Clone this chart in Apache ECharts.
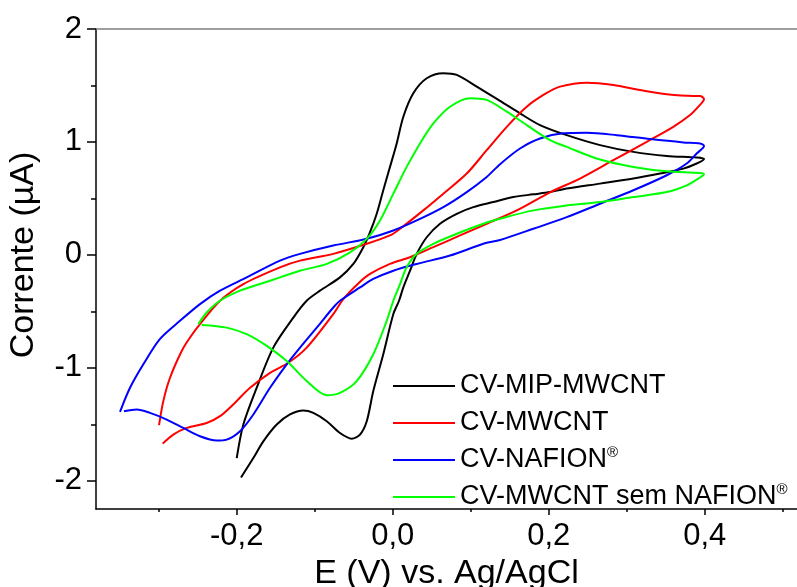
<!DOCTYPE html>
<html>
<head>
<meta charset="utf-8">
<script src="https://cdn.jsdelivr.net/npm/echarts@6/dist/echarts.min.js"></script>
<style>
html,body{margin:0;padding:0;background:#fff;}
#chart{width:797px;height:587px;}
</style>
</head>
<body>
<div id="chart"></div>
<script>
// ---- Data (E in V vs Ag/AgCl, current in µA) ----
const seriesNames = ['CV-MIP-MWCNT', 'CV-MWCNT', 'CV-NAFION®', 'CV-MWCNT sem NAFION®'];
const seriesColors = ['#000000', '#ff0000', '#0000ff', '#00ff00'];

const mipE = [-0.200,-0.1915,-0.1744,-0.1531,-0.1274,-0.1103,-0.0932,-0.0676,-0.0505,-0.0377,-0.0291,-0.0205,-0.0121,-0.0035,0.0051,0.0136,0.0264,0.0436,0.0649,0.0821,0.1077,0.1376,0.1632,0.1888,0.2231,0.2658,0.3085,0.3513,0.3897,0.3991,0.3897,0.3726,0.3427,0.3085,0.2658,0.2231,0.2017,0.1803,0.1546,0.1290,0.1033,0.0821,0.0606,0.0436,0.0308,0.0222,0.0136,0.0081,0.0008,-0.0121,-0.0249,-0.0333,-0.0419,-0.0526,-0.0676,-0.0846,-0.1018,-0.1146,-0.1317,-0.1487,-0.1659,-0.1787,-0.1945];
const mipI = [-1.799,-1.502,-1.177,-0.821,-0.555,-0.406,-0.317,-0.199,-0.080,0.068,0.201,0.364,0.572,0.779,0.987,1.223,1.431,1.564,1.609,1.594,1.490,1.363,1.253,1.149,1.060,0.972,0.912,0.876,0.862,0.850,0.809,0.764,0.720,0.676,0.631,0.587,0.556,0.536,0.512,0.468,0.423,0.364,0.276,0.156,0.009,-0.140,-0.288,-0.406,-0.524,-0.880,-1.206,-1.473,-1.591,-1.627,-1.577,-1.473,-1.399,-1.378,-1.413,-1.502,-1.651,-1.799,-1.971];

const mwcntE = [-0.2996,-0.2941,-0.2855,-0.2705,-0.2599,-0.2471,-0.2214,-0.1915,-0.1445,-0.1188,-0.0762,-0.0333,-0.0035,0.0094,0.0392,0.0649,0.0949,0.1205,0.1462,0.1718,0.1953,0.2145,0.2487,0.2828,0.3171,0.3513,0.3854,0.3940,0.3991,0.3918,0.3812,0.3597,0.3256,0.2828,0.2401,0.2017,0.1590,0.1205,0.0863,0.0521,0.0222,-0.0035,-0.0291,-0.0445,-0.0633,-0.0762,-0.1103,-0.1338,-0.1573,-0.1829,-0.2044,-0.2214,-0.2385,-0.2641,-0.2813,-0.2949];
const mwcntI = [-1.508,-1.295,-1.088,-0.851,-0.732,-0.613,-0.406,-0.258,-0.110,-0.051,0.009,0.098,0.172,0.231,0.394,0.542,0.720,0.927,1.134,1.312,1.425,1.490,1.525,1.505,1.460,1.422,1.407,1.407,1.380,1.312,1.238,1.134,1.001,0.838,0.676,0.554,0.394,0.276,0.172,0.068,-0.021,-0.080,-0.169,-0.255,-0.391,-0.524,-0.821,-0.955,-1.044,-1.177,-1.324,-1.428,-1.488,-1.532,-1.591,-1.671];

const nafionE = [-0.3496,-0.3368,-0.3197,-0.2983,-0.2727,-0.2471,-0.2214,-0.1872,-0.1445,-0.1188,-0.0762,-0.0333,0.0008,0.0308,0.0649,0.0949,0.1205,0.1376,0.1632,0.1888,0.2187,0.2487,0.2872,0.3299,0.3726,0.3940,0.3991,0.3897,0.3769,0.3513,0.3085,0.2658,0.2231,0.1803,0.1376,0.1162,0.0735,0.0308,0.0008,-0.0249,-0.0419,-0.0676,-0.0762,-0.0974,-0.1188,-0.1359,-0.1573,-0.1787,-0.1958,-0.2128,-0.2256,-0.2471,-0.2685,-0.2897,-0.3112,-0.3282,-0.3445];
const nafionI = [-1.390,-1.177,-0.969,-0.744,-0.584,-0.436,-0.317,-0.199,-0.051,0.009,0.083,0.142,0.216,0.305,0.423,0.556,0.690,0.803,0.942,1.031,1.076,1.081,1.060,1.025,0.996,0.987,0.965,0.898,0.809,0.705,0.572,0.453,0.334,0.231,0.132,0.098,-0.006,-0.080,-0.140,-0.213,-0.288,-0.406,-0.466,-0.644,-0.821,-0.969,-1.177,-1.413,-1.562,-1.636,-1.644,-1.606,-1.532,-1.458,-1.399,-1.369,-1.384];

const semE = [-0.2492,-0.2385,-0.2214,-0.1958,-0.1701,-0.1445,-0.1188,-0.0846,-0.0547,-0.0333,-0.0163,0.0008,0.0179,0.0350,0.0521,0.0735,0.0991,0.1205,0.1462,0.1718,0.2017,0.2231,0.2658,0.3085,0.3513,0.3940,0.3991,0.3918,0.3769,0.3513,0.3085,0.2658,0.2231,0.1803,0.1376,0.1162,0.0821,0.0521,0.0308,0.0179,0.0094,0.0008,-0.0077,-0.0249,-0.0462,-0.0676,-0.0846,-0.1103,-0.1359,-0.1615,-0.1872,-0.2128,-0.2449];
const semI = [-0.613,-0.510,-0.406,-0.317,-0.258,-0.199,-0.140,-0.080,0.023,0.142,0.305,0.542,0.779,0.987,1.164,1.312,1.387,1.372,1.268,1.149,1.016,0.956,0.844,0.779,0.740,0.725,0.714,0.676,0.616,0.556,0.512,0.468,0.438,0.394,0.320,0.276,0.187,0.098,0.009,-0.110,-0.258,-0.406,-0.584,-0.880,-1.117,-1.221,-1.242,-1.117,-0.940,-0.806,-0.702,-0.644,-0.620];

const xMajorTicks = [-0.2, 0, 0.2, 0.4];
const xMinorTicks = [-0.3, -0.1, 0.1, 0.3, 0.5];
const yMajorTicks = [-2, -1, 0, 1, 2];
const yMinorTicks = [-1.5, -0.5, 0.5, 1.5];
const xRange = [-0.3804, 0.5183];
const yRange = [-2.25, 2];

// ---- Build ----
const FONT = "'Liberation Sans', Arial, sans-serif";
const allE = [mipE, mwcntE, nafionE, semE];
const allI = [mipI, mwcntI, nafionI, semI];

const series = seriesNames.map((name, k) => ({
  name: name,
  type: 'line',
  xAxisIndex: 0,
  yAxisIndex: 0,
  data: allE[k].map((e, i) => [e, allI[k][i]]),
  showSymbol: false,
  smooth: 0.3,
  lineStyle: { color: seriesColors[k], width: 2 },
  itemStyle: { color: seriesColors[k] },
  animation: false
}));

const chart = echarts.init(document.getElementById('chart'), null, { renderer: 'canvas' });
chart.setOption({
  backgroundColor: '#fff',
  animation: false,
  textStyle: { fontFamily: FONT },
  grid: { left: 96, top: 29, right: 0, bottom: 78, containLabel: false, outerBoundsMode: 'none' },
  xAxis: [
    {
      type: 'value', position: 'bottom', min: xRange[0], max: xRange[1],
      name: 'E (V) vs. Ag/AgCl', nameLocation: 'middle', nameGap: 41,
      nameTextStyle: { fontSize: 34, color: '#000', fontFamily: FONT },
      axisLine: { show: true, onZero: false, lineStyle: { color: '#000', width: 1.5 } },
      axisTick: { show: true, inside: false, length: 6, customValues: xMajorTicks, lineStyle: { color: '#000', width: 1.5 } },
      axisLabel: { show: true, customValues: xMajorTicks, margin: 12, fontSize: 31, color: '#000', fontFamily: FONT,
        formatter: v => (Math.abs(v) < 1e-9 ? 0 : v).toFixed(1).replace('.', ',') },
      splitLine: { show: false }
    },
    {
      type: 'value', position: 'top', min: xRange[0], max: xRange[1],
      axisLine: { show: true, onZero: false, lineStyle: { color: '#808080', width: 1.5 } },
      axisTick: { show: false }, axisLabel: { show: false }, splitLine: { show: false }
    },
    {
      type: 'value', position: 'bottom', min: xRange[0], max: xRange[1],
      axisLine: { show: false, onZero: false },
      axisTick: { show: true, inside: false, length: 3, customValues: xMinorTicks, lineStyle: { color: '#000', width: 1.5 } },
      axisLabel: { show: false }, splitLine: { show: false }
    }
  ],
  yAxis: [
    {
      type: 'value', position: 'left', min: yRange[0], max: yRange[1],
      name: 'Corrente (µA)', nameLocation: 'middle', nameGap: 55,
      nameTextStyle: { fontSize: 34, color: '#000', fontFamily: FONT, padding: [0, 0, 0, 28] },
      axisLine: { show: true, onZero: false, lineStyle: { color: '#000', width: 1.5 } },
      axisTick: { show: true, inside: false, length: 9, customValues: yMajorTicks, lineStyle: { color: '#000', width: 1.5 } },
      axisLabel: { show: true, customValues: yMajorTicks, margin: 14, fontSize: 31, color: '#000', fontFamily: FONT,
        formatter: v => String(Math.round(v)) },
      splitLine: { show: false }
    },
    {
      type: 'value', position: 'left', min: yRange[0], max: yRange[1],
      axisLine: { show: false, onZero: false },
      axisTick: { show: true, inside: false, length: 5, customValues: yMinorTicks, lineStyle: { color: '#000', width: 1.5 } },
      axisLabel: { show: false }, splitLine: { show: false }
    }
  ],
  legend: {
    show: true,
    orient: 'vertical',
    left: 388, top: 366,
    itemWidth: 62, itemHeight: 2,
    itemGap: 7,
    icon: 'rect',
    selectedMode: false,
    data: seriesNames,
    formatter: n => n.replace('®', '{sup|®}'),
    textStyle: {
      fontSize: 27, color: '#000', fontFamily: FONT, lineHeight: 30,
      rich: { sup: { fontSize: 15, color: '#000', fontFamily: FONT, verticalAlign: 'top', lineHeight: 15 } }
    }
  },
  series: series
});
</script>
</body>
</html>
